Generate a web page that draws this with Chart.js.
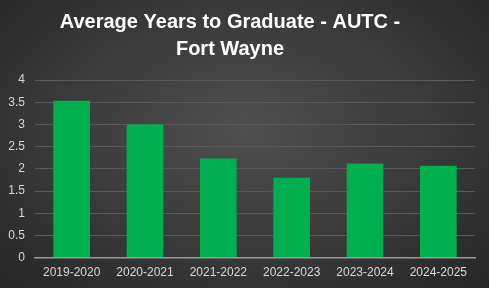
<!DOCTYPE html>
<html>
<head>
<meta charset="utf-8">
<script src="https://cdn.jsdelivr.net/npm/chart.js@4"></script>
<style>
  html, body { margin: 0; padding: 0; }
  #wrap {
    width: 489px; height: 288px;
    background: radial-gradient(ellipse 70% 75% at 50% 45%, #4f4f4f 0%, #3a3a3a 55%, #262626 100%);
  }
</style>
</head>
<body>
<div id="wrap"><canvas id="chart" width="489" height="288"></canvas></div>
<script>
const years = ['2019-2020', '2020-2021', '2021-2022', '2022-2023', '2023-2024', '2024-2025']
const avgYears = [3.53, 3.0, 2.23, 1.8, 2.12, 2.07]
const titleLines = ['Average Years to Graduate - AUTC -', 'Fort Wayne']

// the title in the original sits a bit left of the canvas centre
const shiftTitle = {
  id: 'shiftTitle',
  afterLayout(chart) {
    const t = chart.titleBlock
    if (t) { t.left = 0; t.right = 460; t.width = 460 }
  }
}

new Chart(document.getElementById('chart'), {
  type: 'bar',
  data: {
    labels: years,
    datasets: [{
      data: avgYears,
      backgroundColor: '#00b050',
      barPercentage: 0.5,
      categoryPercentage: 1
    }]
  },
  options: {
    responsive: false,
    animation: false,
    layout: { padding: { left: 6, right: 14, bottom: 0 } },
    plugins: {
      legend: { display: false },
      tooltip: { enabled: false },
      title: {
        display: true,
        text: titleLines,
        color: '#ffffff',
        font: { family: 'Liberation Sans', size: 20, weight: 'bold', lineHeight: 1.35 },
        padding: { top: 9, bottom: 17 }
      }
    },
    scales: {
      x: {
        grid: { display: false, drawTicks: false },
        border: { color: '#9a9a9a', width: 1.5 },
        ticks: { color: '#d9d9d9', font: { family: 'Liberation Sans', size: 12 }, padding: 8, maxRotation: 0 }
      },
      y: {
        min: 0, max: 4,
        afterFit: s => { s.width = 29 },
        grid: { color: '#5a5a5a', drawTicks: false },
        border: { display: false },
        ticks: {
          stepSize: 0.5, color: '#d9d9d9', font: { family: 'Liberation Sans', size: 12 }, padding: 10,
          callback: v => String(v)
        }
      }
    }
  },
  plugins: [shiftTitle]
})
</script>
</body>
</html>
